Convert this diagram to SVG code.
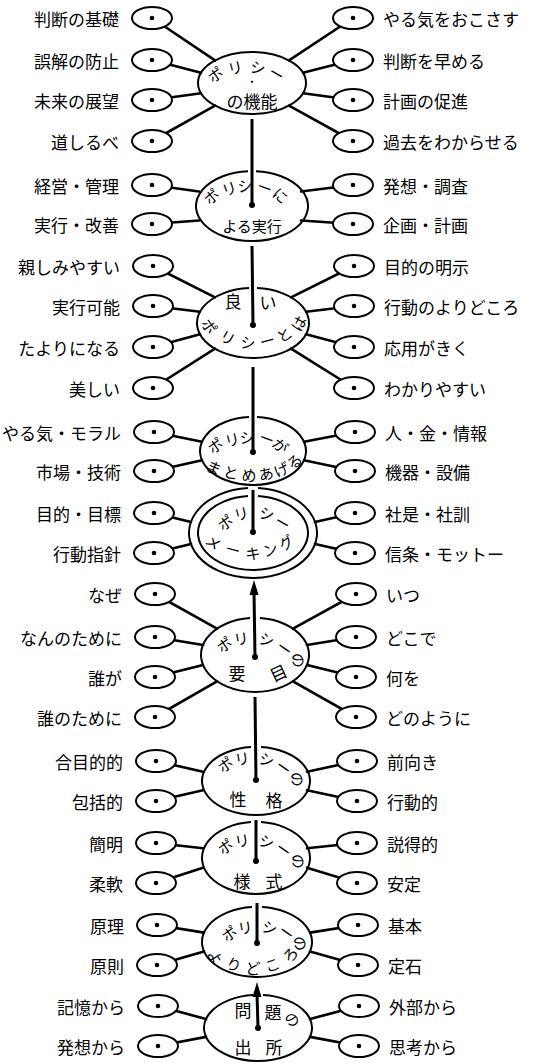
<svg xmlns="http://www.w3.org/2000/svg" xmlns:xlink="http://www.w3.org/1999/xlink" width="553" height="1064" viewBox="0 0 553 1064">
<style>
.r{stroke:#000;stroke-width:2.6;stroke-linecap:round}
.m{stroke:#000;stroke-width:3}
.e{fill:none;stroke:#000;stroke-width:2}
.s{fill:#fff;stroke:#000;stroke-width:2}
.d{fill:#000}
.t{font-family:"Noto Sans CJK JP","Noto Sans CJK SC",sans-serif;font-size:17px;fill:#000;dominant-baseline:central}
.l{text-anchor:end}
.a{font-family:"Noto Sans CJK JP","Noto Sans CJK SC",sans-serif;font-size:15px;fill:#000;text-anchor:middle;dominant-baseline:central}
.b{font-size:17px}
.p{font-size:11px}
</style>
<defs>
<g id="se"><ellipse rx="20" ry="11" class="s"/><circle r="2.3" class="d"/></g>
</defs>
<rect width="553" height="1064" fill="#fff"/>
<g id="connectors">
<line class="r" x1="152" y1="18" x2="215" y2="60.4"/><line class="r" x1="152" y1="60" x2="201" y2="72.8"/><line class="r" x1="152" y1="100" x2="201" y2="93.2"/><line class="r" x1="152" y1="141" x2="215" y2="105.6"/>
<line class="r" x1="353" y1="18" x2="289" y2="60.4"/><line class="r" x1="353" y1="60" x2="303" y2="72.8"/><line class="r" x1="353" y1="100" x2="303" y2="93.2"/><line class="r" x1="353" y1="141" x2="289" y2="105.6"/>
<line class="r" x1="152" y1="185" x2="199" y2="191.5"/><line class="r" x1="152" y1="224" x2="199" y2="220.5"/><line class="r" x1="353" y1="185" x2="301" y2="191.5"/><line class="r" x1="353" y1="224" x2="301" y2="220.5"/>
<line class="r" x1="153" y1="266" x2="215" y2="297.3"/><line class="r" x1="153" y1="306" x2="200" y2="311.7"/><line class="r" x1="153" y1="347" x2="200" y2="334.3"/><line class="r" x1="153" y1="388" x2="215" y2="348.7"/>
<line class="r" x1="354" y1="266" x2="291" y2="297.3"/><line class="r" x1="354" y1="306" x2="306" y2="311.7"/><line class="r" x1="354" y1="347" x2="306" y2="334.3"/><line class="r" x1="354" y1="388" x2="291" y2="348.7"/>
<line class="r" x1="154" y1="432" x2="202" y2="441.8"/><line class="r" x1="154" y1="471" x2="202" y2="460.3"/><line class="r" x1="355" y1="432" x2="304" y2="441.8"/><line class="r" x1="355" y1="471" x2="304" y2="460.3"/>
<line class="r" x1="154" y1="513" x2="191" y2="522.1"/><line class="r" x1="154" y1="553" x2="191" y2="543.9"/><line class="r" x1="355" y1="513" x2="315" y2="522.1"/><line class="r" x1="355" y1="553" x2="315" y2="543.9"/>
<line class="r" x1="155" y1="594" x2="217" y2="628.7"/><line class="r" x1="155" y1="637" x2="203" y2="645"/><line class="r" x1="155" y1="677" x2="203" y2="665"/><line class="r" x1="155" y1="717" x2="217" y2="681.3"/>
<line class="r" x1="356" y1="594" x2="293" y2="628.7"/><line class="r" x1="356" y1="637" x2="307" y2="645"/><line class="r" x1="356" y1="677" x2="307" y2="665"/><line class="r" x1="356" y1="717" x2="293" y2="681.3"/>
<line class="r" x1="156" y1="761" x2="203" y2="771.8"/><line class="r" x1="156" y1="801" x2="203" y2="790.2"/><line class="r" x1="357" y1="761" x2="307" y2="771.8"/><line class="r" x1="357" y1="801" x2="307" y2="790.2"/>
<line class="r" x1="156" y1="843" x2="203" y2="848.3"/><line class="r" x1="156" y1="883" x2="203" y2="867.7"/><line class="r" x1="357" y1="843" x2="307" y2="848.3"/><line class="r" x1="357" y1="883" x2="307" y2="867.7"/>
<line class="r" x1="157" y1="925" x2="204" y2="932.6"/><line class="r" x1="157" y1="965" x2="204" y2="951.4"/><line class="r" x1="358" y1="925" x2="310" y2="932.6"/><line class="r" x1="358" y1="965" x2="310" y2="951.4"/>
<line class="r" x1="158" y1="1006" x2="206" y2="1019.1"/><line class="r" x1="158" y1="1046" x2="206" y2="1036.9"/><line class="r" x1="359" y1="1006" x2="310" y2="1019.1"/><line class="r" x1="359" y1="1046" x2="310" y2="1036.9"/>
<line class="m" x1="252" y1="119" x2="252" y2="205"/><circle class="d" cx="252" cy="205" r="3"/>
<line class="m" x1="252" y1="246" x2="253" y2="325"/><circle class="d" cx="253" cy="325" r="3"/>
<line class="m" x1="253" y1="367" x2="253" y2="452"/><circle class="d" cx="253" cy="452" r="3"/>
<line class="m" x1="253" y1="490" x2="253" y2="532"/><circle class="d" cx="253" cy="532" r="3"/>
<line class="m" x1="255" y1="657" x2="254" y2="592"/><circle class="d" cx="255" cy="657" r="3"/><path class="d" d="M254,580 L258.5,595 L249.5,595 Z"/>
<line class="m" x1="255" y1="697" x2="256" y2="780"/><circle class="d" cx="256" cy="780" r="3"/>
<line class="m" x1="256" y1="820" x2="256" y2="861"/><circle class="d" cx="256" cy="861" r="3"/>
<line class="m" x1="257" y1="903" x2="257" y2="943"/><circle class="d" cx="257" cy="943" r="3"/>
<line class="m" x1="258" y1="1028" x2="257" y2="994"/><circle class="d" cx="258" cy="1028" r="3"/><path class="d" d="M257,982 L261.5,997 L252.5,997 Z"/>
</g>
<g id="c1"><ellipse class="e" cx="252" cy="83" rx="54" ry="31"/>
<text class="a" transform="translate(215,74) rotate(-35)">ポ</text><text class="a" transform="translate(235,67) rotate(-15)">リ</text><text class="a" transform="translate(258,67) rotate(10)">シ</text><text class="a" transform="translate(277,73) rotate(30)">ー</text>
<text class="a b"><tspan class="p" x="252" y="81">・</tspan><tspan x="252" y="100">の機能</tspan></text></g>
<g id="c2"><path class="e" d="M256,171.2 A56,35 0 1,1 248,171.2"/>
<text class="a" transform="translate(211,196) rotate(-40)">ポ</text><text class="a" transform="translate(229,188) rotate(-20)">リ</text><text class="a" transform="translate(245,185) rotate(-5)">シ</text><text class="a" transform="translate(265,187) rotate(20)">ー</text><text class="a" transform="translate(281,195) rotate(40)">に</text>
<text class="a" x="252" y="225">よる実行</text></g>
<g id="c3"><path class="e" d="M257,288.1 A56,35 0 1,1 249,288.1"/>
<text class="a b" x="233" y="300">良</text><text class="a b" x="268" y="301">い</text>
<text class="a" transform="translate(210,326) rotate(55)">ポ</text><text class="a" transform="translate(228,337) rotate(30)">リ</text><text class="a" transform="translate(248,342) rotate(5)">シ</text><text class="a" transform="translate(267,340) rotate(-15)">ー</text><text class="a" transform="translate(284,334) rotate(-35)">と</text><text class="a" transform="translate(298,323) rotate(-60)">は</text></g>
<g id="c4"><path class="e" d="M257,417.1 A53,34 0 1,1 249,417.1"/>
<text class="a" transform="translate(215,445) rotate(-35)">ポ</text><text class="a" transform="translate(232,439) rotate(-15)">リ</text><text class="a" transform="translate(247,436) rotate(0)">シ</text><text class="a" transform="translate(267,438) rotate(20)">ー</text><text class="a" transform="translate(281,445) rotate(40)">が</text>
<text class="a" transform="translate(214,467) rotate(25)">ま</text><text class="a" transform="translate(231,472) rotate(10)">と</text><text class="a" transform="translate(249,474) rotate(0)">め</text><text class="a" transform="translate(266,473) rotate(-10)">あ</text><text class="a" transform="translate(281,469) rotate(-25)">げ</text><text class="a" transform="translate(294,461) rotate(-40)">る</text></g>
<g id="c5"><path class="e" d="M258,488.1 A64,45 0 1,1 248,488.1"/><path class="e" d="M258,496.1 A55,37 0 1,1 248,496.1"/>
<text class="a" transform="translate(225,522) rotate(-35)">ポ</text><text class="a" transform="translate(241,513) rotate(-15)">リ</text><text class="a" transform="translate(267,513) rotate(10)">シ</text><text class="a" transform="translate(283,522) rotate(30)">ー</text>
<text class="a" transform="translate(214,542) rotate(40)">メ</text><text class="a" transform="translate(233,549) rotate(15)">ー</text><text class="a" transform="translate(253,552) rotate(0)">キ</text><text class="a" transform="translate(270,549) rotate(-15)">ン</text><text class="a" transform="translate(286,542) rotate(-35)">グ</text></g>
<g id="c6"><path class="e" d="M260,618.1 A54,37 0 1,1 250,618.1"/>
<text class="a" transform="translate(224,644) rotate(-35)">ポ</text><text class="a" transform="translate(241,638) rotate(-10)">リ</text><text class="a" transform="translate(267,639) rotate(15)">シ</text><text class="a" transform="translate(285,648) rotate(35)">ー</text><text class="a" transform="translate(299,660) rotate(75)">の</text>
<text class="a b" x="237" y="672">要</text><text class="a b" transform="translate(278,672) rotate(-25)">目</text></g>
<g id="c7"><path class="e" d="M261,747.1 A54,34 0 1,1 251,747.1"/>
<text class="a" transform="translate(225,764) rotate(-35)">ポ</text><text class="a" transform="translate(242,758) rotate(-10)">リ</text><text class="a" transform="translate(267,759) rotate(15)">シ</text><text class="a" transform="translate(284,767) rotate(35)">ー</text><text class="a" transform="translate(298,779) rotate(75)">の</text>
<text class="a b" x="238" y="798">性</text><text class="a b" x="274" y="799">格</text></g>
<g id="c8"><path class="e" d="M261,822.1 A54,36 0 1,1 251,822.1"/>
<text class="a" transform="translate(225,846) rotate(-35)">ポ</text><text class="a" transform="translate(242,840) rotate(-10)">リ</text><text class="a" transform="translate(267,841) rotate(15)">シ</text><text class="a" transform="translate(284,849) rotate(35)">ー</text><text class="a" transform="translate(299,861) rotate(75)">の</text>
<text class="a b" x="242" y="880">様</text><text class="a b" x="274" y="880">式</text></g>
<g id="c9"><path class="e" d="M262,907.1 A55,35 0 1,1 252,907.1"/>
<text class="a" transform="translate(229,933) rotate(-35)">ポ</text><text class="a" transform="translate(245,927) rotate(-10)">リ</text><text class="a" transform="translate(270,927) rotate(15)">シ</text><text class="a" transform="translate(287,932) rotate(35)">ー</text><text class="a" transform="translate(301,943) rotate(70)">の</text>
<text class="a" transform="translate(216,957) rotate(60)">よ</text><text class="a" transform="translate(234,964) rotate(25)">り</text><text class="a" transform="translate(253,967) rotate(0)">ど</text><text class="a" transform="translate(272,964) rotate(-20)">こ</text><text class="a" transform="translate(290,954) rotate(-45)">ろ</text></g>
<g id="c10"><path class="e" d="M263,995.1 A54,33 0 1,1 253,995.1"/>
<text class="a b" x="243" y="1009">問</text><text class="a b" x="273" y="1011">題</text><text class="a" transform="translate(293,1019) rotate(45)">の</text>
<text class="a b" x="243" y="1046">出</text><text class="a b" x="274" y="1046">所</text></g>
<g id="l1"><use xlink:href="#se" x="152" y="18"/><text class="t l" x="119" y="18">判断の基礎</text></g>
<g id="l2"><use xlink:href="#se" x="152" y="60"/><text class="t l" x="119" y="60">誤解の防止</text></g>
<g id="l3"><use xlink:href="#se" x="152" y="100"/><text class="t l" x="119" y="100">未来の展望</text></g>
<g id="l4"><use xlink:href="#se" x="152" y="141"/><text class="t l" x="119" y="141">道しるべ</text></g>
<g id="r1"><use xlink:href="#se" x="353" y="18"/><text class="t" x="383" y="18">やる気をおこさす</text></g>
<g id="r2"><use xlink:href="#se" x="353" y="60"/><text class="t" x="383" y="60">判断を早める</text></g>
<g id="r3"><use xlink:href="#se" x="353" y="100"/><text class="t" x="383" y="100">計画の促進</text></g>
<g id="r4"><use xlink:href="#se" x="353" y="141"/><text class="t" x="383" y="141">過去をわからせる</text></g>
<g id="l5"><use xlink:href="#se" x="152" y="185"/><text class="t l" x="119" y="185">経営・管理</text></g>
<g id="l6"><use xlink:href="#se" x="152" y="224"/><text class="t l" x="119" y="224">実行・改善</text></g>
<g id="r5"><use xlink:href="#se" x="353" y="185"/><text class="t" x="383" y="185">発想・調査</text></g>
<g id="r6"><use xlink:href="#se" x="353" y="224"/><text class="t" x="383" y="224">企画・計画</text></g>
<g id="l7"><use xlink:href="#se" x="153" y="266"/><text class="t l" x="120" y="266">親しみやすい</text></g>
<g id="l8"><use xlink:href="#se" x="153" y="306"/><text class="t l" x="120" y="306">実行可能</text></g>
<g id="l9"><use xlink:href="#se" x="153" y="347"/><text class="t l" x="120" y="347">たよりになる</text></g>
<g id="l10"><use xlink:href="#se" x="153" y="388"/><text class="t l" x="120" y="388">美しい</text></g>
<g id="r7"><use xlink:href="#se" x="354" y="266"/><text class="t" x="384" y="266">目的の明示</text></g>
<g id="r8"><use xlink:href="#se" x="354" y="306"/><text class="t" x="384" y="306">行動のよりどころ</text></g>
<g id="r9"><use xlink:href="#se" x="354" y="347"/><text class="t" x="384" y="347">応用がきく</text></g>
<g id="r10"><use xlink:href="#se" x="354" y="388"/><text class="t" x="384" y="388">わかりやすい</text></g>
<g id="l11"><use xlink:href="#se" x="154" y="432"/><text class="t l" x="121" y="432">やる気・モラル</text></g>
<g id="l12"><use xlink:href="#se" x="154" y="471"/><text class="t l" x="121" y="471">市場・技術</text></g>
<g id="r11"><use xlink:href="#se" x="355" y="432"/><text class="t" x="385" y="432">人・金・情報</text></g>
<g id="r12"><use xlink:href="#se" x="355" y="471"/><text class="t" x="385" y="471">機器・設備</text></g>
<g id="l13"><use xlink:href="#se" x="154" y="513"/><text class="t l" x="121" y="513">目的・目標</text></g>
<g id="l14"><use xlink:href="#se" x="154" y="553"/><text class="t l" x="121" y="553">行動指針</text></g>
<g id="r13"><use xlink:href="#se" x="355" y="513"/><text class="t" x="385" y="513">社是・社訓</text></g>
<g id="r14"><use xlink:href="#se" x="355" y="553"/><text class="t" x="385" y="553">信条・モットー</text></g>
<g id="l15"><use xlink:href="#se" x="155" y="594"/><text class="t l" x="122" y="594">なぜ</text></g>
<g id="l16"><use xlink:href="#se" x="155" y="637"/><text class="t l" x="122" y="637">なんのために</text></g>
<g id="l17"><use xlink:href="#se" x="155" y="677"/><text class="t l" x="122" y="677">誰が</text></g>
<g id="l18"><use xlink:href="#se" x="155" y="717"/><text class="t l" x="122" y="717">誰のために</text></g>
<g id="r15"><use xlink:href="#se" x="356" y="594"/><text class="t" x="386" y="594">いつ</text></g>
<g id="r16"><use xlink:href="#se" x="356" y="637"/><text class="t" x="386" y="637">どこで</text></g>
<g id="r17"><use xlink:href="#se" x="356" y="677"/><text class="t" x="386" y="677">何を</text></g>
<g id="r18"><use xlink:href="#se" x="356" y="717"/><text class="t" x="386" y="717">どのように</text></g>
<g id="l19"><use xlink:href="#se" x="156" y="761"/><text class="t l" x="123" y="761">合目的的</text></g>
<g id="l20"><use xlink:href="#se" x="156" y="801"/><text class="t l" x="123" y="801">包括的</text></g>
<g id="r19"><use xlink:href="#se" x="357" y="761"/><text class="t" x="387" y="761">前向き</text></g>
<g id="r20"><use xlink:href="#se" x="357" y="801"/><text class="t" x="387" y="801">行動的</text></g>
<g id="l21"><use xlink:href="#se" x="156" y="843"/><text class="t l" x="123" y="843">簡明</text></g>
<g id="l22"><use xlink:href="#se" x="156" y="883"/><text class="t l" x="123" y="883">柔軟</text></g>
<g id="r21"><use xlink:href="#se" x="357" y="843"/><text class="t" x="387" y="843">説得的</text></g>
<g id="r22"><use xlink:href="#se" x="357" y="883"/><text class="t" x="387" y="883">安定</text></g>
<g id="l23"><use xlink:href="#se" x="157" y="925"/><text class="t l" x="124" y="925">原理</text></g>
<g id="l24"><use xlink:href="#se" x="157" y="965"/><text class="t l" x="124" y="965">原則</text></g>
<g id="r23"><use xlink:href="#se" x="358" y="925"/><text class="t" x="388" y="925">基本</text></g>
<g id="r24"><use xlink:href="#se" x="358" y="965"/><text class="t" x="388" y="965">定石</text></g>
<g id="l25"><use xlink:href="#se" x="158" y="1006"/><text class="t l" x="125" y="1006">記憶から</text></g>
<g id="l26"><use xlink:href="#se" x="158" y="1046"/><text class="t l" x="125" y="1046">発想から</text></g>
<g id="r25"><use xlink:href="#se" x="359" y="1006"/><text class="t" x="389" y="1006">外部から</text></g>
<g id="r26"><use xlink:href="#se" x="359" y="1046"/><text class="t" x="389" y="1046">思考から</text></g>
</svg>
